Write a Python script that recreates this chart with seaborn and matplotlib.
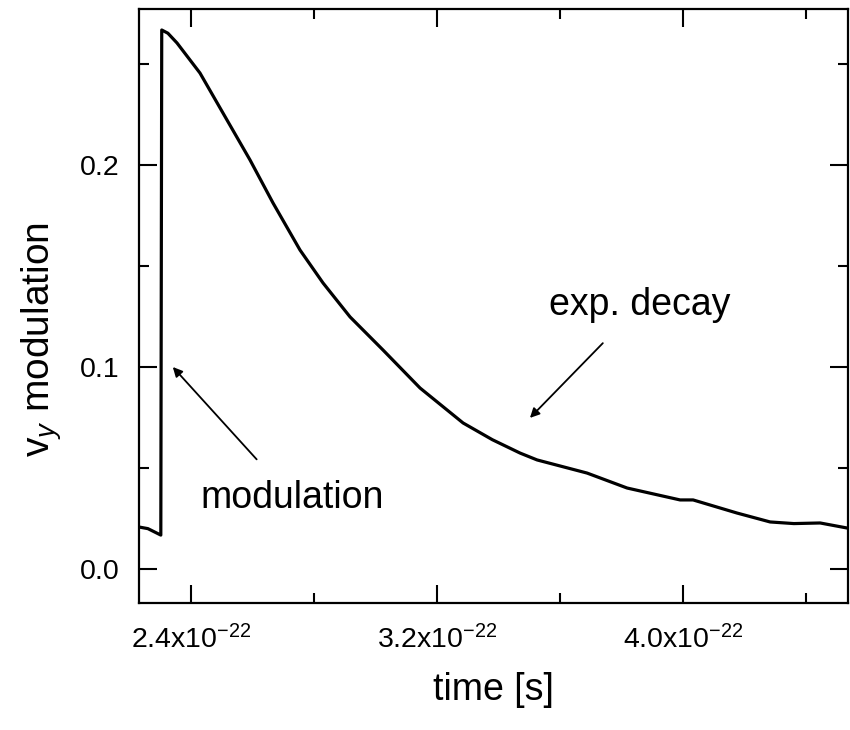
# v_y modulation vs time: step at ~2.3x10^-22 s followed by exponential decay
import matplotlib
matplotlib.use("Agg")
import matplotlib.pyplot as plt
from matplotlib.ticker import MultipleLocator, FixedLocator, FixedFormatter
import pandas as pd
import seaborn as sns

# values (time in units of 1e-22 s)
time = [2.231, 2.260, 2.302, 2.305, 2.325, 2.3545, 2.4293, 2.5041, 2.5919,
        2.6667, 2.7545, 2.8293, 2.9171, 3.0244, 3.1447, 3.2846, 3.3800,
        3.4699, 3.5252, 3.6878, 3.8179, 3.9902, 4.0325, 4.1756, 4.2829,
        4.3600, 4.4455, 4.5333]
vy = [0.0208, 0.0200, 0.0168, 0.2668, 0.2652, 0.2604, 0.2455, 0.2257, 0.2025,
      0.1812, 0.1579, 0.1416, 0.1248, 0.1084, 0.0896, 0.0723, 0.0640,
      0.0574, 0.0540, 0.0475, 0.0401, 0.0342, 0.0342, 0.0277, 0.0233,
      0.0225, 0.0228, 0.0203]

xticks = [2.4, 3.2, 4.0]
xticklabels = ["2.4x10$^{-22}$", "3.2x10$^{-22}$", "4.0x10$^{-22}$"]
yticks = [0.0, 0.1, 0.2]
yticklabels = ["0.0", "0.1", "0.2"]

df = pd.DataFrame({"time": time, "vy": vy})

sns.set_theme(style="ticks", rc={"text.color": "black",
                                 "axes.labelcolor": "black"})
plt.rcParams["font.family"] = ["Liberation Sans", "DejaVu Sans"]
plt.rcParams["mathtext.fontset"] = "custom"
plt.rcParams["mathtext.rm"] = "Liberation Sans"
plt.rcParams["mathtext.it"] = "Liberation Sans:italic"

fig = plt.figure(figsize=(8.5, 7.3), dpi=100)
ax = fig.add_axes([0.1635, 0.174, 0.8345, 0.8137])

sns.lineplot(data=df, x="time", y="vy", color="black", linewidth=2.3,
             estimator=None, sort=False, ax=ax)

ax.set_xlim(2.231, 4.537)
ax.set_ylim(-0.0168, 0.2772)

ax.xaxis.set_major_locator(FixedLocator(xticks))
ax.xaxis.set_major_formatter(FixedFormatter(xticklabels))
ax.xaxis.set_minor_locator(MultipleLocator(0.4))
ax.yaxis.set_major_locator(FixedLocator(yticks))
ax.yaxis.set_major_formatter(FixedFormatter(yticklabels))
ax.yaxis.set_minor_locator(MultipleLocator(0.05))

ax.tick_params(which="both", direction="in", top=True, right=True,
               width=1.5, colors="black", labelsize=20.5)
ax.tick_params(which="major", length=13)
ax.tick_params(which="minor", length=7)
ax.tick_params(axis="x", which="major", pad=16)
ax.tick_params(axis="y", which="major", pad=14)
for s in ax.spines.values():
    s.set_linewidth(1.6)
    s.set_color("black")

ax.set_xlabel("time [s]", fontsize=27, labelpad=13, color="black")
ax.set_ylabel("v$_y$ modulation", fontsize=28, color="black")
ax.yaxis.set_label_coords(-0.105, 0.444)

ax.annotate("exp. decay", xy=(3.502, 0.0748), xytext=(3.86, 0.1307),
            fontsize=27, ha="center", va="center", color="black",
            arrowprops=dict(arrowstyle="-|>", color="black", lw=1.3,
                            shrinkA=17, shrinkB=0, mutation_scale=14))
ax.annotate("modulation", xy=(2.341, 0.100), xytext=(2.728, 0.0351),
            fontsize=27, ha="center", va="center", color="black",
            arrowprops=dict(arrowstyle="-|>", color="black", lw=1.3,
                            shrinkA=17, shrinkB=0, mutation_scale=14))

fig.savefig("out.png", dpi=100)
